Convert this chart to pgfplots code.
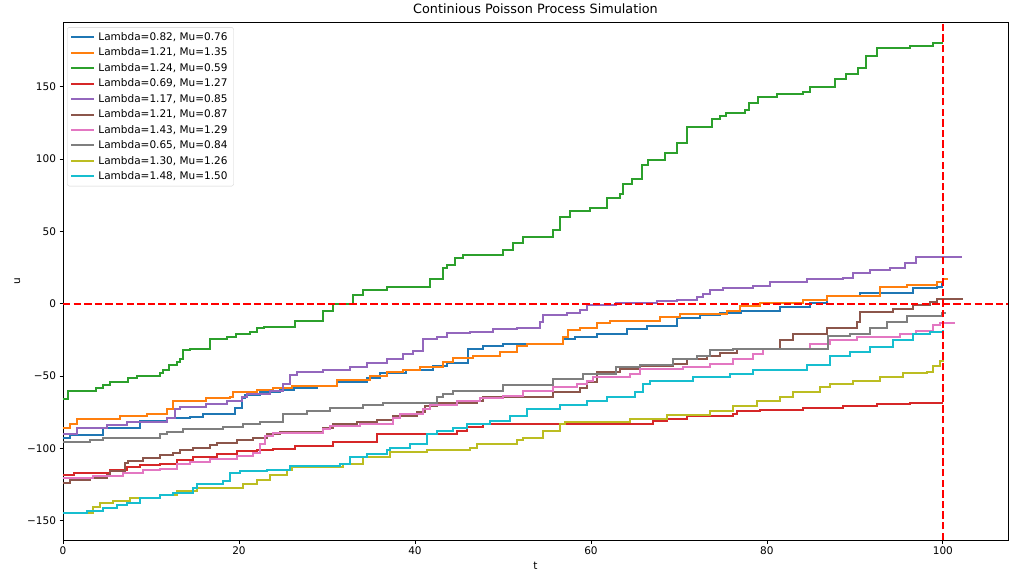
\documentclass[border=0pt]{standalone}
\usepackage{fontspec}
\setmainfont{DejaVu Sans}
\usepackage{pgfplots}
\pgfplotsset{compat=1.18}
\definecolor{C0}{HTML}{1F77B4}
\definecolor{C1}{HTML}{FF7F0E}
\definecolor{C2}{HTML}{2CA02C}
\definecolor{C3}{HTML}{D62728}
\definecolor{C4}{HTML}{9467BD}
\definecolor{C5}{HTML}{8C564B}
\definecolor{C6}{HTML}{E377C2}
\definecolor{C7}{HTML}{7F7F7F}
\definecolor{C8}{HTML}{BCBD22}
\definecolor{C9}{HTML}{17BECF}
\begin{document}
\begin{tikzpicture}
\begin{axis}[name=ax, at={(0,0)}, anchor=south west,
  scale only axis, width=945pt, height=518pt,
  xmin=0, xmax=107.4, ymin=-163.2, ymax=194.7,
  axis line style={black, line width=0.8pt},
  tick align=outside, tick pos=left,
  major tick length=3.5pt,
  every tick/.style={black, line width=0.8pt},
  xtick={0,20,40,60,80,100},
  ytick={-150,-100,-50,0,50,100,150},
  yticklabels={−150,−100,−50,0,50,100,150},
  /pgf/number format/assume math mode=true,
  ticklabel style={font=\fontsize{10.5}{12}\selectfont},
  xlabel={t}, ylabel={u},
  label style={font=\fontsize{10.5}{12}\selectfont},
  title={Continious Poisson Process Simulation},
  title style={font=\fontsize{12.8}{15}\selectfont, yshift=-1.5pt},
  legend cell align=left,
  legend style={at={(0.0045,0.99)}, anchor=north west,
    draw=black!18, fill=white, fill opacity=0.8, text opacity=1,
    rounded corners=2pt, font=\fontsize{10.5}{12}\selectfont,
    nodes={inner sep=3pt}},
  legend image code/.code={\draw[#1] (0pt,0pt) -- (23pt,0pt);},
  every axis plot/.append style={line width=2pt, const plot},
]
\addplot[C0] coordinates {(0,-93) (0.8,-90.5) (4.5,-86) (8.75,-81) (11.8,-79) (14.4,-78) (15.9,-76) (19.5,-72) (20.3,-65) (20.7,-63) (22.4,-61) (24.7,-59.5) (26.2,-58.5) (28.9,-56.6) (31.1,-54.3) (34.5,-51) (36,-48) (39,-46) (42,-42.7) (43.6,-41) (46,-31) (47.7,-29) (50,-27.5) (56.8,-24) (58.2,-22.6) (60.7,-20.6) (64.1,-17.7) (66.4,-15) (69.8,-10) (72.4,-8) (74.7,-6.4) (77,-5) (81.5,-2.2) (84.9,0.3) (86.8,5.2) (90.6,7.5) (96.6,10.7) (99.3,11.7) (99.9,14.2) (100.1,14.2)};
\addlegendentry{Lambda=0.82, Mu=0.76}
\addplot[C1] coordinates {(0,-85.5) (0.8,-82.8) (1.6,-79.5) (6.5,-77.4) (9.5,-75.8) (11.8,-72.6) (12.5,-67) (16.3,-65.4) (19,-64.2) (19.3,-61) (22,-59.4) (23.9,-58) (26,-57) (31.1,-52.4) (34.9,-49.7) (36.8,-47.3) (38.6,-45.5) (40.6,-43.9) (43.2,-40.4) (44.3,-37.6) (46.6,-35.8) (49.7,-33.5) (51.6,-29.5) (52.7,-27.5) (56.8,-23) (57.4,-18.4) (58.8,-16.4) (60.7,-13.6) (62.2,-11.9) (67.8,-9.1) (70.1,-7.3) (75.5,-5) (76.9,-1.7) (79.2,0.3) (84.1,2.4) (86.8,5.2) (92.8,11.7) (95.9,13.3) (99.3,15.1) (100,17) (100.6,17)};
\addlegendentry{Lambda=1.21, Mu=1.35}
\addplot[C2] coordinates {(0,-66) (0.6,-60.5) (3.8,-58) (4.6,-56) (5.3,-54) (7.4,-51.3) (8.4,-49.7) (11,-48) (11.4,-46) (12.1,-42) (12.9,-40) (13.3,-38) (13.6,-32) (14.4,-31) (16.7,-24.6) (18.6,-23) (19.7,-21) (21.2,-19.6) (22,-17) (22.8,-16) (26.4,-12) (29.5,-5) (30.7,0) (33,6) (34.1,9.4) (36.8,11.4) (41.7,17) (43.2,24.6) (43.6,26.7) (44.5,31.5) (45.5,33.6) (50,37) (51.1,42) (52.3,46) (55.7,51) (56.5,60) (57.6,63.8) (59.9,66) (61.8,73) (63.3,76) (63.7,83) (64.7,86.4) (65.8,96) (66.5,99.6) (68.4,104) (69.8,111) (70.9,121.9) (73.8,127.4) (74.7,129.7) (75.4,131.6) (77.5,134) (78,139) (79,143) (81.1,144.8) (84.1,146.4) (84.9,150) (87.7,155) (89,158.7) (90.4,163) (91.3,171.4) (92.5,176.5) (96.3,178.3) (98.9,180) (100,180)};
\addlegendentry{Lambda=1.24, Mu=0.59}
\addplot[C3] coordinates {(0,-118) (1.2,-116.8) (5.3,-115) (7.3,-112.8) (8.75,-111.7) (11,-110.5) (12.9,-108.2) (14.8,-105.9) (17.5,-103.6) (19.8,-101.7) (22,-101) (23.9,-100.6) (26.4,-98.3) (30.7,-95.3) (35.7,-90.2) (41.7,-89.7) (44.8,-87.8) (45.9,-85) (47.7,-82.8) (67,-80.9) (68.6,-79.3) (70.9,-77.4) (76.1,-75.8) (76.6,-74) (79.2,-73.5) (84.1,-71.7) (88.6,-70.5) (92.5,-69.3) (96.3,-68.6) (98.2,-68.2) (100,-68.2)};
\addlegendentry{Lambda=0.69, Mu=1.27}
\addplot[C4] coordinates {(0,-89.7) (1.6,-85.5) (5,-83.7) (7.3,-82) (11.8,-78.6) (12.7,-72.6) (13.3,-71.2) (16.3,-68.9) (18.6,-67) (20.3,-64.7) (20.9,-62.4) (23.5,-60.5) (25,-55.3) (25.8,-49) (26.6,-47.3) (29.6,-45.5) (32.6,-43.9) (34.5,-41) (36.8,-37.9) (38.6,-34.4) (39.8,-32.3) (40.9,-24) (42.5,-23) (43.6,-20.3) (46.3,-19.5) (48.9,-17.7) (51.6,-16.5) (54.2,-12.6) (54.6,-8) (57.3,-6.4) (58.8,-4.5) (59.5,-1) (62.9,0.6) (67.5,1.7) (69.8,2.9) (72,4.7) (72.7,7) (73.5,9.4) (75,11) (78.4,12.5) (80.3,15.1) (84.5,16.8) (88.6,17.9) (89.8,21) (91.7,23.3) (94,24.4) (95.7,27.9) (97,32) (102.2,32)};
\addlegendentry{Lambda=1.17, Mu=0.85}
\addplot[C5] coordinates {(0,-123.5) (0.8,-122) (3.1,-120.3) (5,-118) (5.3,-115.6) (7,-110.3) (7.4,-108.7) (9.1,-106.4) (11,-104.5) (12.5,-102.9) (13.3,-101) (14.8,-99.9) (16.7,-97.8) (17.5,-96) (19.8,-94.1) (21.6,-92.5) (23.2,-90.2) (24.7,-88.3) (29.6,-85.5) (30.7,-83.2) (33.4,-82) (35.7,-80.4) (37.5,-77.4) (40.2,-75.1) (41.1,-70.5) (42.5,-68.2) (47,-67) (47.7,-64.5) (55.7,-61.2) (58.8,-58.2) (59.5,-54.3) (60.7,-47.4) (63.3,-45) (65.6,-42.7) (69.3,-41.5) (70.9,-38) (73.2,-35.8) (74.7,-33.9) (76.6,-31.1) (81.5,-25.3) (83,-20.7) (86.8,-16.5) (90.2,-12.6) (90.6,-5.7) (94.3,-3.4) (96.6,-1) (98.5,1.3) (99.3,3.6) (102.3,3.6)};
\addlegendentry{Lambda=1.21, Mu=0.87}
\addplot[C6] coordinates {(0,-120.5) (3.4,-119) (6.8,-116.8) (9.1,-115) (11,-113.8) (12.9,-111) (14.4,-109) (16.7,-107.5) (19.8,-105.2) (21.6,-102.9) (22.4,-97) (23,-91.3) (23.9,-89) (29.6,-86.7) (30.3,-84.4) (33.8,-82.8) (37.5,-78.6) (38.3,-76.3) (40.9,-72.8) (41.7,-70) (44.8,-67) (47.4,-65.2) (50,-63.5) (52.3,-60.5) (55.7,-57.8) (58.4,-55.4) (59.5,-53) (60.2,-50.3) (64.4,-48.5) (65.6,-45) (70.5,-43.9) (73.5,-41.5) (76.1,-38) (78.4,-34.6) (79.5,-31.1) (84.9,-27.6) (87.2,-25.3) (90.2,-23) (95.1,-20.7) (97,-18.9) (98.9,-14.9) (99.7,-13.3) (101.4,-13.3)};
\addlegendentry{Lambda=1.43, Mu=1.29}
\addplot[C7] coordinates {(0,-95.3) (3.1,-94.3) (4.5,-92.5) (11,-90.2) (11.8,-88.3) (13.6,-86.7) (18.2,-85) (20.5,-83.2) (22.4,-81.4) (25,-75.8) (27.7,-74.4) (30.3,-72.1) (34.1,-69.8) (36.4,-68.2) (42.5,-64.7) (43.2,-62.4) (44.3,-60) (50,-56.3) (55.7,-52) (59.1,-48.5) (62.9,-43.9) (65.6,-42) (69.3,-38) (72,-35.8) (73.5,-31.8) (76.1,-31) (86.9,-22) (89.4,-20.7) (91.7,-16.5) (93.6,-12.6) (95.9,-8.7) (99.9,-6.6) (100.4,-6.6)};
\addlegendentry{Lambda=0.65, Mu=0.84}
\addplot[C8] coordinates {(0,-144.5) (3.4,-140.6) (4.2,-137.6) (5.7,-136) (7.6,-134.1) (11,-131.8) (12.9,-129.5) (15.2,-127.2) (20.5,-124.4) (22,-121.4) (23.5,-118) (25.5,-114.5) (26,-112.8) (31.8,-111) (34.1,-105.9) (37.2,-102.2) (41.4,-101.2) (46.3,-99.4) (47,-96.6) (51.6,-94.3) (52.3,-93) (54.6,-87.8) (56.5,-83.2) (57,-81.4) (64.4,-79.7) (68.6,-76.7) (73.5,-74) (76.1,-70.5) (78.9,-67) (81.5,-64.2) (83,-61.2) (86,-57.8) (87.2,-55.4) (89.8,-53.1) (92.8,-50.3) (95.5,-48) (98.2,-47.3) (98.9,-42.7) (99.7,-39.2) (100,-38)};
\addlegendentry{Lambda=1.30, Mu=1.26}
\addplot[C9] coordinates {(0,-144.6) (2.7,-142.9) (4.5,-141.1) (6.1,-139.2) (7.3,-137.6) (8.75,-134.1) (11,-132.3) (12.5,-130.7) (14.8,-127.2) (15.2,-124.4) (18.2,-122.6) (19,-116.8) (20.1,-115.2) (23.2,-114.5) (25.8,-112) (31.5,-110.5) (32.6,-105.7) (34.5,-104) (36.8,-101.2) (37.2,-99.4) (39.4,-97) (41.4,-90.2) (42.5,-87.8) (44.3,-85.5) (45.9,-83.2) (48.5,-80.9) (50.8,-77.4) (52.7,-72.5) (56.5,-69.8) (59.5,-67.5) (61.8,-64.7) (65,-61.2) (65.9,-55.4) (66.7,-53.1) (71.6,-50.8) (75.8,-48.5) (78.4,-45.5) (84.5,-42) (87.2,-35.8) (89.4,-33.5) (91.7,-30) (94.3,-25.3) (96.6,-21.2) (98.5,-19.6) (100,-17.9)};
\addlegendentry{Lambda=1.48, Mu=1.50}
\addplot[red, line width=2pt, dash pattern=on 7.4pt off 3.2pt, forget plot] coordinates {(0,0) (107.4,0)};
\addplot[red, line width=2pt, dash pattern=on 7.4pt off 3.2pt, forget plot] coordinates {(100,-163.2) (100,194.7)};
\end{axis}
\pgfresetboundingbox
\path ([shift={(-63pt,-33pt)}]ax.south west) rectangle ([shift={(2pt,22pt)}]ax.north east);
\end{tikzpicture}
\end{document}
